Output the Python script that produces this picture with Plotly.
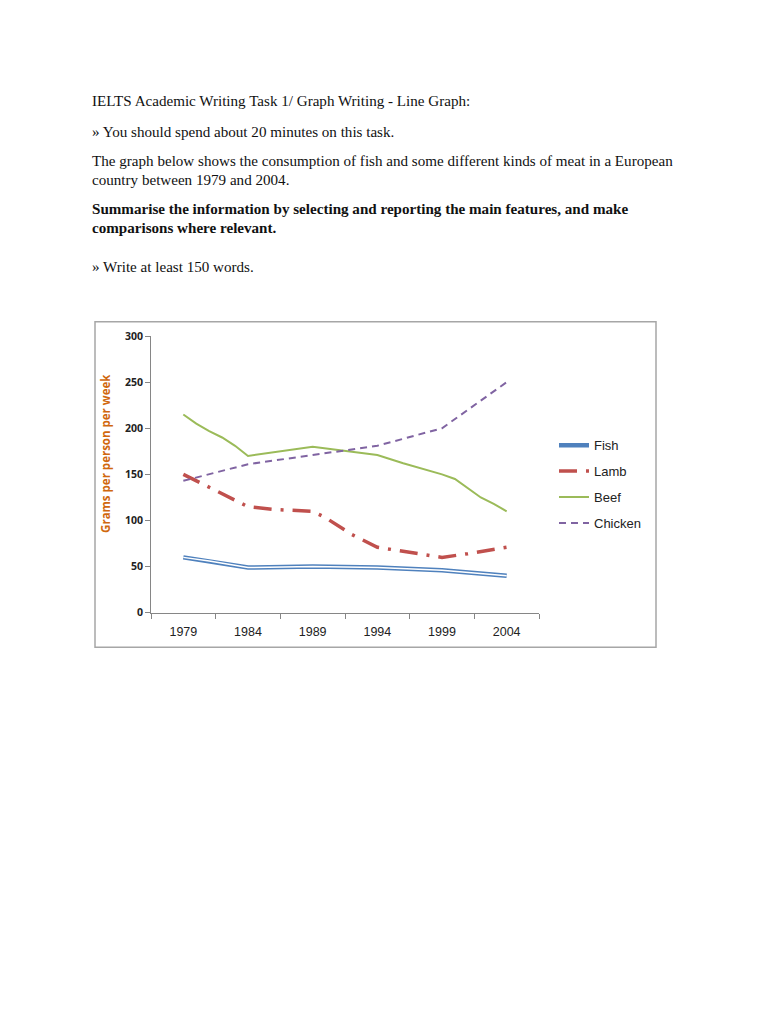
import plotly.graph_objects as go

# ---- data ----
fish_years = [1979, 1981, 1984, 1989, 1994, 1999, 2004]
fish_vals = [60, 56, 49, 50, 49, 46, 40]

lamb_years = [1979, 1984, 1986, 1989, 1990, 1992, 1994, 1997, 1999, 2001, 2004]
lamb_vals = [150, 115, 112, 110, 103, 85, 71, 64, 60, 64, 71]

beef_years = [1979, 1980, 1981, 1982, 1983, 1984, 1989, 1992, 1994, 1996, 1999, 2000, 2001, 2002, 2003, 2004]
beef_vals = [215, 205, 197, 190, 181, 170, 180, 175, 171, 162, 150, 145, 135, 125, 118, 110]

chicken_years = [1979, 1984, 1989, 1994, 1999, 2004]
chicken_vals = [143, 161, 171, 181, 200, 250]

tick_years = [1979, 1984, 1989, 1994, 1999, 2004]
tick_labels = ["1979", "1984", "1989", "1994", "1999", "2004"]
y_ticks = [0, 50, 100, 150, 200, 250, 300]

W, H = 768, 1024
OX, OY = 8, 8  # page body margin


def px(x):
    return (x - OX) / W


def py(y):
    return 1 - (y - OY) / H


fig = go.Figure()
fig.add_trace(go.Scatter(x=fish_years, y=fish_vals, name="Fish", mode="lines",
                         line=dict(color="#4F81BD", width=4.5), legendgroup="a"))
fig.add_trace(go.Scatter(x=fish_years, y=fish_vals, name="Fish", mode="lines",
                         line=dict(color="white", width=1.5), showlegend=False,
                         hoverinfo="skip", legendgroup="a"))
fig.add_trace(go.Scatter(x=lamb_years, y=lamb_vals, name="Lamb", mode="lines",
                         line=dict(color="#C0504D", width=3.5, dash="18px,9px,3px,9px"),
                         legendgroup="b"))
fig.add_trace(go.Scatter(x=beef_years, y=beef_vals, name="Beef", mode="lines",
                         line=dict(color="#9BBB59", width=2), legendgroup="c"))
fig.add_trace(go.Scatter(x=chicken_years, y=chicken_vals, name="Chicken", mode="lines",
                         line=dict(color="#8064A2", width=2, dash="7px,5px"),
                         legendgroup="d"))

axis_gray = "#868686"
fig.update_layout(
    width=W, height=H,
    margin=dict(l=0, r=0, t=0, b=0),
    paper_bgcolor="white", plot_bgcolor="white",
    showlegend=True,
    legend=dict(x=px(554), y=py(429), xanchor="left", yanchor="top",
                font=dict(family="Liberation Sans", size=13, color="#222222"),
                traceorder="grouped", tracegroupgap=6, bgcolor="rgba(0,0,0,0)"),
    xaxis=dict(domain=[px(151), px(539)], range=[1976.5, 2006.5],
               tickmode="array", tickvals=tick_years, ticktext=tick_labels,
               ticks="", showgrid=False, zeroline=False, ticklabelstandoff=7,
               showline=True, linecolor=axis_gray, linewidth=1,
               tickfont=dict(family="Liberation Sans", size=12.5, color="#222222"),
               minor=dict(tickmode="array",
                          tickvals=[1976.5, 1981.5, 1986.5, 1991.5, 1996.5, 2001.5, 2006.5],
                          ticks="outside", ticklen=5, tickcolor=axis_gray, showgrid=False),
               fixedrange=True),
    yaxis=dict(domain=[py(614), py(333.5)], range=[0, 300],
               tickmode="array", tickvals=y_ticks,
               ticks="outside", ticklen=5, tickcolor=axis_gray,
               showgrid=False, zeroline=False,
               showline=True, linecolor=axis_gray, linewidth=1,
               tickfont=dict(family="Open Sans", size=10.5, color="#222222", weight="bold"),
               fixedrange=True),
)

# y-axis title (placed like the original, above the axis centre)
fig.add_annotation(xref="paper", yref="paper", x=px(106), y=py(453),
                   xanchor="center", yanchor="middle", showarrow=False, textangle=-90,
                   text="Grams per person per week",
                   font=dict(family="Open Sans", size=11.5, color="#D0680E", weight="bold"))

# frame around the chart
fig.add_shape(type="rect", xref="paper", yref="paper",
              x0=px(95), x1=px(656), y0=py(649), y1=py(319),
              line=dict(color="#A6A6A6", width=1.5), fillcolor="rgba(0,0,0,0)", layer="below")

# page text
serif = "Liberation Serif"
lines = [
    (100, "IELTS Academic Writing Task 1/ Graph Writing - Line Graph:", False),
    (132, "» You should spend about 20 minutes on this task.", False),
    (161, "The graph below shows the consumption of fish and some different kinds of meat in a European", False),
    (180, "country between 1979 and 2004.", False),
    (210, "Summarise the information by selecting and reporting the main features, and make", True),
    (229, "comparisons where relevant.", True),
    (268, "» Write at least 150 words.", False),
]
for y, txt, bold in lines:
    fig.add_annotation(xref="paper", yref="paper", x=px(90), y=py(y - 5),
                       xanchor="left", yanchor="middle", showarrow=False,
                       text=f"<b>{txt}</b>" if bold else txt,
                       font=dict(family=serif, size=15.1, color="#111111"))

fig.write_html("out.html")
